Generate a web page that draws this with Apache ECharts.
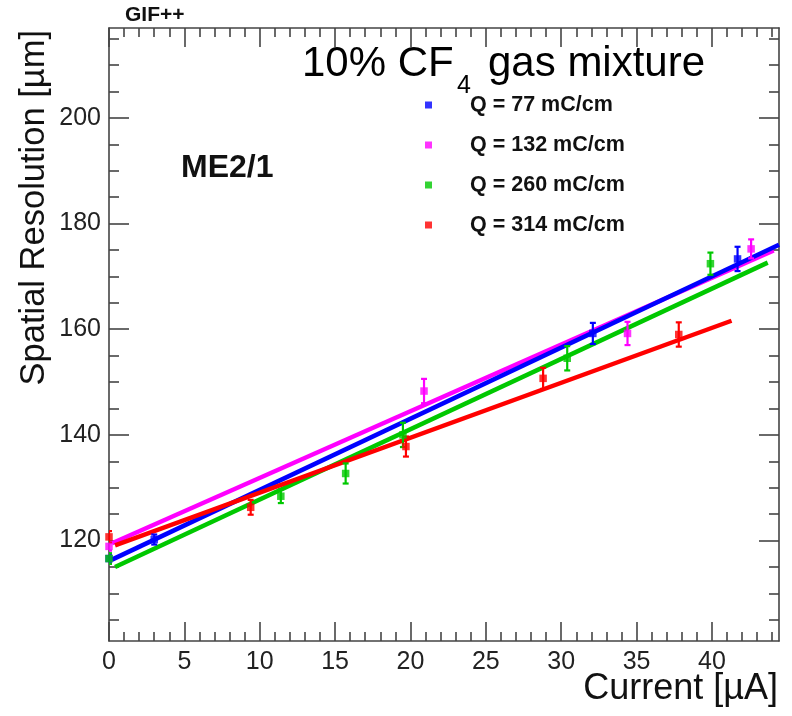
<!DOCTYPE html>
<html>
<head>
<meta charset="utf-8">
<script src="https://cdn.jsdelivr.net/npm/echarts@6/dist/echarts.min.js"></script>
<style>html,body{margin:0;padding:0;background:#fff;}#c{width:792px;height:716px;}</style>
</head>
<body>
<div id="c"></div>
<script>
// ---- data ----
const seriesNames = ['Q = 77 mC/cm', 'Q = 132 mC/cm', 'Q = 260 mC/cm', 'Q = 314 mC/cm'];
const seriesColors = ['#0000ff', '#ff00ff', '#00c800', '#ff0000'];

const blueX = [0, 3.0, 32.1, 41.7];
const blueY = [116.6, 120.2, 159.2, 173.3];
const blueErr = [0.9, 0.95, 2.0, 2.3];

const magentaX = [0, 20.9, 34.4, 42.6];
const magentaY = [118.9, 148.3, 159.2, 175.2];
const magentaErr = [0.8, 2.3, 2.2, 1.8];

const greenX = [0, 11.4, 15.7, 19.5, 30.4, 39.9];
const greenY = [116.6, 128.4, 132.7, 140.0, 154.5, 172.4];
const greenErr = [1.0, 1.3, 1.9, 2.3, 2.3, 2.1];

const redX = [0, 9.4, 19.7, 28.8, 37.8];
const redY = [120.7, 126.3, 137.8, 150.7, 159.0];
const redErr = [1.1, 1.4, 1.9, 2.0, 2.3];

// fit lines: [start point, end point]
const blueFit = [[0.2, 116.4], [44.45, 176.0]];
const magentaFit = [[0.2, 119.5], [44.1, 174.9]];
const greenFit = [[0.4, 115.0], [43.7, 172.6]];
const redFit = [[0.4, 119.1], [41.3, 161.6]];

// axes
const xMin = 0, xMax = 44.45;
const yMin = 101, yMax = 217;
const xMajorTicks = [0, 5, 10, 15, 20, 25, 30, 35, 40];
const xMinorTicks = [1,2,3,4,6,7,8,9,11,12,13,14,16,17,18,19,21,22,23,24,26,27,28,29,31,32,33,34,36,37,38,39,41,42,43,44];
const yMajorTicks = [120, 140, 160, 180, 200];
const yMinorTicks = [105,110,115,125,130,135,145,150,155,165,170,175,185,190,195,205,210,215];

// ---- chart ----
const xs = [blueX, magentaX, greenX, redX];
const ys = [blueY, magentaY, greenY, redY];
const es = [blueErr, magentaErr, greenErr, redErr];
const fits = [blueFit, magentaFit, greenFit, redFit];

const frameColor = '#444';
function axis(kind, pos, ticks, len, showLabel, showLine) {
  return {
    type: 'value', position: pos, gridIndex: 0,
    min: kind === 'x' ? xMin : yMin, max: kind === 'x' ? xMax : yMax,
    axisLine: {show: showLine, onZero: false, lineStyle: {color: frameColor, width: 1.6}},
    axisTick: {show: true, inside: true, length: len, customValues: ticks, lineStyle: {color: frameColor, width: 1.6}},
    axisLabel: {show: showLabel, customValues: ticks, color: '#222', fontSize: 25, fontFamily: 'Liberation Sans', margin: kind === 'x' ? 9 : 8},
    splitLine: {show: false}
  };
}

const series = [];
const drawOrder = [1, 0, 2, 3];
drawOrder.forEach(i => {
  series.push({
    type: 'line', name: seriesNames[i] + ' fit', data: fits[i],
    xAxisIndex: 0, yAxisIndex: 0, symbol: 'none', silent: true,
    lineStyle: {color: seriesColors[i], width: 4.5}, z: 2, clip: true
  });
});
[0, 1, 2, 3].forEach(i => {
  const d = xs[i].map((x, k) => [x, ys[i][k], es[i][k]]);
  series.push({
    type: 'custom', name: seriesNames[i] + ' err', data: d, xAxisIndex: 0, yAxisIndex: 0, z: 3, clip: true,
    renderItem: function (params, api) {
      const x = api.value(0), y = api.value(1), e = api.value(2);
      const t = api.coord([x, y + e]), b = api.coord([x, y - e]);
      const st = {stroke: seriesColors[i], lineWidth: 2.2};
      return {type: 'group', children: [
        {type: 'line', shape: {x1: t[0], y1: t[1], x2: b[0], y2: b[1]}, style: st},
        {type: 'line', shape: {x1: t[0] - 3, y1: t[1], x2: t[0] + 3, y2: t[1]}, style: st},
        {type: 'line', shape: {x1: b[0] - 3, y1: b[1], x2: b[0] + 3, y2: b[1]}, style: st}
      ]};
    }
  });
  series.push({
    type: 'scatter', name: seriesNames[i], data: d.map(p => [p[0], p[1]]),
    xAxisIndex: 0, yAxisIndex: 0, symbol: 'rect', symbolSize: 7.5, z: 4, clip: true,
    itemStyle: {color: seriesColors[i]}
  });
});

const chart = echarts.init(document.getElementById('c'), null, {renderer: 'canvas'});
chart.setOption({
  animation: false,
  backgroundColor: '#fff',
  grid: {left: 109, right: 13, top: 28, bottom: 75, containLabel: false},
  xAxis: [
    axis('x', 'bottom', xMajorTicks, 19, true, true),
    axis('x', 'bottom', xMinorTicks, 9, false, false),
    axis('x', 'top', xMajorTicks, 19, false, true),
    axis('x', 'top', xMinorTicks, 9, false, false)
  ],
  yAxis: [
    axis('y', 'left', yMajorTicks, 20, true, true),
    axis('y', 'left', yMinorTicks, 10, false, false),
    axis('y', 'right', yMajorTicks, 20, false, true),
    axis('y', 'right', yMinorTicks, 10, false, false)
  ],
  legend: {
    data: seriesNames, orient: 'vertical', left: 420, top: 89,
    icon: 'rect', itemWidth: 7, itemHeight: 7, itemGap: 18,
    textStyle: {fontSize: 21.5, fontWeight: 'bold', fontFamily: 'Liberation Sans', color: '#111', lineHeight: 21.5, padding: [0, 0, 0, 33]}
  },
  graphic: [
    {type: 'text', left: 125, top: 5, style: {text: 'GIF++', font: 'bold 21px "Liberation Sans"', fill: '#111'}},
    {type: 'text', x: 302, y: 78 - 0.32 * 42, style: {text: '10% CF', font: '42px "Liberation Sans"', fill: '#000', verticalAlign: 'middle', align: 'left'}},
    {type: 'text', x: 457, y: 94 - 0.32 * 25, style: {text: '4', font: '25px "Liberation Sans"', fill: '#000', verticalAlign: 'middle', align: 'left'}},
    {type: 'text', x: 488, y: 78 - 0.32 * 42, style: {text: 'gas mixture', font: '42px "Liberation Sans"', fill: '#000', verticalAlign: 'middle', align: 'left'}},
    {type: 'text', x: 181, y: 168, style: {text: 'ME2/1', font: 'bold 32px "Liberation Sans"', fill: '#111', verticalAlign: 'middle', align: 'left'}},
    {type: 'text', x: 778, y: 689, style: {text: 'Current [µA]', font: '36px "Liberation Sans"', fill: '#111', verticalAlign: 'middle', align: 'right'}},
    {type: 'text', x: 34, y: 30, rotation: Math.PI / 2, style: {text: 'Spatial Resolution [µm]', font: '34.5px "Liberation Sans"', fill: '#111', verticalAlign: 'middle', align: 'right'}}
  ],
  series: series
});
</script>
</body>
</html>
